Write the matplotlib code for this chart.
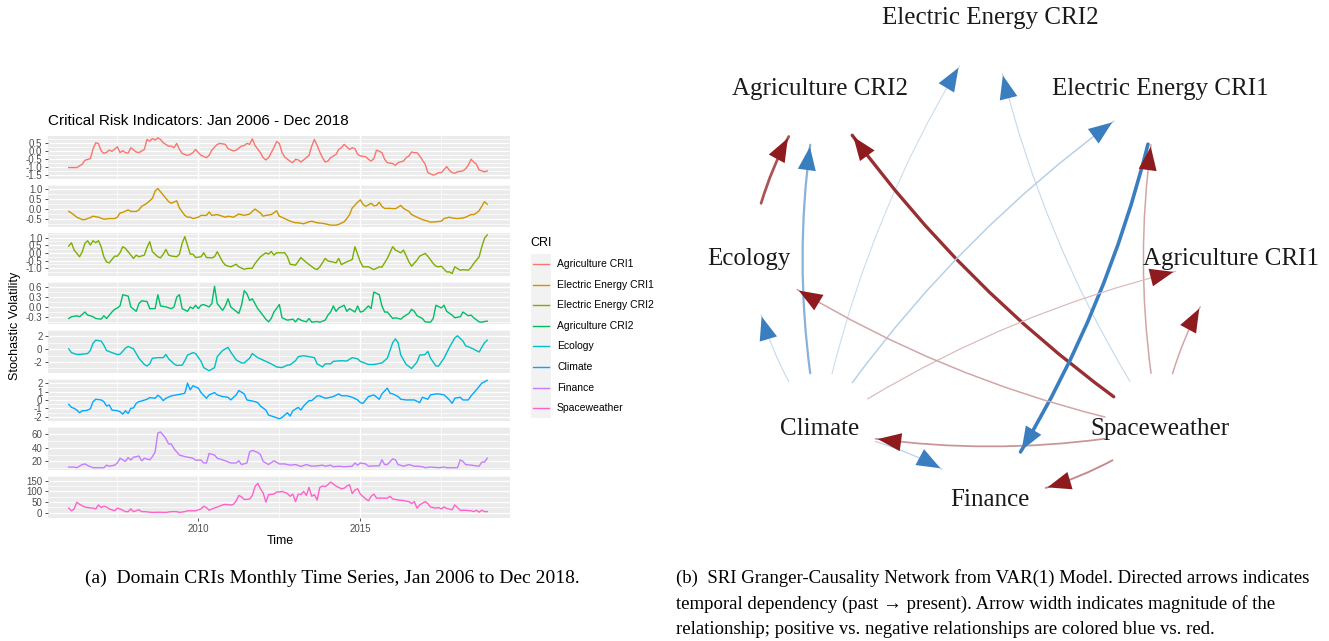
import matplotlib.pyplot as plt
import matplotlib as mpl
import numpy as np
from matplotlib.patches import FancyArrowPatch, Rectangle
from matplotlib.lines import Line2D
from matplotlib.colors import to_rgb

plt.rcParams.update({'font.family': ['Liberation Sans', 'DejaVu Sans']})
plt.rcParams.update({'axes.unicode_minus': False})
plt.close('all')

#%% data (month 0 = Jan 2006, month 155 = Dec 2018)
cri_names = ['Agriculture CRI1', 'Electric Energy CRI1', 'Electric Energy CRI2',
             'Agriculture CRI2', 'Ecology', 'Climate', 'Finance', 'Spaceweather']
cri_colors = ['#F8766D', '#CD9600', '#7CAE00', '#00BE67',
              '#00BFC4', '#00A9FF', '#C77CFF', '#FF61CC']

agri1_m = [0, 3, 5, 6, 8, 9, 10, 11, 12, 13, 14, 15, 16, 17, 18, 19, 20, 21, 22, 23, 25, 26, 28, 29, 30, 31,
           32, 33, 34, 35, 37, 38, 39, 40, 41, 42, 44, 45, 46, 47, 48, 49, 51, 52, 53, 55, 56, 58, 59, 61, 62,
           64, 65, 66, 67, 68, 69, 71, 72, 73, 74, 76, 77, 78, 79, 80, 82, 83, 84, 85, 86, 87, 89, 90, 91, 92,
           93, 94, 95, 96, 97, 99, 100, 101, 102, 104, 105, 106, 107, 108, 110, 111, 112, 113, 114, 116, 117,
           118, 120, 121, 122, 124, 125, 126, 127, 128, 129, 130, 132, 133, 135, 136, 137, 138, 140, 141, 142,
           143, 144, 146, 147, 148, 149, 150, 151, 152, 154, 155]
agri1_v = [-1.06, -1.06, -0.85, -0.6, -0.5, 0.1, 0.5, 0.45, 0.0, -0.17, -0.1, 0.04, -0.04, 0.1, 0.25, -0.12,
           0.0, -0.12, -0.15, 0.19, -0.08, -0.12, 0.08, 0.71, 0.6, 0.77, 0.67, 0.81, 0.71, 0.5, 0.29, 0.29,
           0.19, 0.46, 0.08, -0.17, -0.29, -0.23, -0.12, 0.08, -0.12, -0.29, -0.44, -0.29, 0.04, 0.4, 0.46,
           0.4, 0.13, -0.02, 0.04, 0.29, 0.33, 0.46, 0.4, 0.75, 0.33, -0.12, -0.44, -0.58, -0.44, 0.19, 0.58,
           0.46, -0.12, -0.4, -0.67, -0.75, -0.54, -0.58, -0.71, -0.58, -0.29, 0.29, 0.71, 0.33, -0.08, -0.44,
           -0.71, -0.65, -0.44, -0.23, 0.08, 0.19, 0.4, 0.08, 0.19, 0.13, -0.23, -0.33, -0.38, -0.54, -0.65,
           -0.5, 0.04, -0.12, -0.54, -0.75, -0.81, -0.92, -0.75, -0.65, -0.44, -0.33, -0.08, -0.12, -0.12,
           -0.33, -0.85, -1.38, -1.54, -1.48, -1.38, -1.38, -1.0, -1.23, -1.38, -1.42, -1.33, -1.27, -1.13,
           -0.92, -0.54, -0.71, -0.85, -1.21, -1.33, -1.27]

elec1_m = [0, 1, 3, 5, 6, 8, 9, 11, 13, 15, 17, 18, 19, 20, 22, 23, 25, 26, 27, 29, 31, 32, 33, 35, 37, 38,
           40, 41, 43, 44, 45, 46, 48, 49, 51, 52, 53, 55, 56, 58, 59, 61, 63, 65, 67, 68, 69, 71, 72, 73, 75,
           77, 78, 80, 82, 84, 85, 87, 89, 90, 92, 94, 95, 97, 99, 100, 102, 103, 104, 105, 107, 108, 109, 110,
           112, 113, 114, 115, 116, 117, 119, 121, 123, 124, 126, 127, 129, 131, 133, 134, 136, 138, 139, 141,
           142, 144, 146, 147, 149, 150, 151, 152, 154, 155]
elec1_v = [-0.1, -0.18, -0.39, -0.51, -0.51, -0.41, -0.34, -0.39, -0.49, -0.46, -0.46, -0.39, -0.18, -0.15,
           -0.02, -0.1, -0.1, -0.02, 0.15, 0.31, 0.56, 0.92, 1.05, 0.72, 0.39, 0.31, 0.43, 0.07, -0.3, -0.39,
           -0.39, -0.46, -0.39, -0.3, -0.3, -0.13, -0.3, -0.26, -0.3, -0.39, -0.34, -0.39, -0.23, -0.3, -0.23,
           -0.1, 0.02, -0.18, -0.34, -0.3, -0.26, -0.07, -0.34, -0.46, -0.59, -0.67, -0.67, -0.72, -0.62,
           -0.59, -0.67, -0.7, -0.72, -0.79, -0.79, -0.75, -0.62, -0.46, -0.26, 0.07, 0.36, 0.48, 0.26, 0.15,
           0.31, 0.18, 0.2, 0.36, 0.15, 0.05, 0.05, 0.03, 0.2, 0.05, -0.1, -0.26, -0.39, -0.51, -0.59, -0.64,
           -0.62, -0.59, -0.46, -0.39, -0.43, -0.46, -0.43, -0.39, -0.26, -0.26, -0.18, -0.07, 0.39, 0.26]

elec2_m = [0, 1, 2, 3, 4, 5, 6, 7, 8, 9, 10, 11, 12, 13, 14, 15, 17, 18, 19, 20, 21, 23, 24, 25, 26, 28, 29,
           30, 31, 33, 34, 35, 36, 37, 38, 40, 41, 42, 43, 45, 46, 47, 49, 50, 51, 53, 54, 55, 57, 58, 60, 62,
           63, 65, 66, 68, 69, 71, 73, 74, 75, 76, 77, 80, 81, 82, 84, 86, 87, 89, 91, 92, 93, 95, 96, 98, 99,
           100, 101, 103, 105, 106, 108, 109, 111, 113, 115, 116, 118, 120, 121, 123, 124, 126, 127, 129, 130,
           132, 133, 135, 136, 137, 138, 140, 141, 142, 143, 145, 146, 148, 149, 150, 152, 153, 154, 155]
elec2_v = [0.45, 0.67, 0.19, -0.03, -0.25, 0.07, 0.63, 0.8, 0.52, 0.8, 0.67, 0.8, 0.41, -0.25, -0.58, -0.65,
           -0.21, -0.21, 0.01, 0.41, 0.3, -0.14, -0.36, -0.14, -0.25, -0.14, 0.36, 0.74, 0.08, -0.25, -0.32,
           -0.08, 0.23, -0.14, -0.2, -0.25, -0.08, 0.63, 1.07, -0.08, -0.08, -0.3, -0.25, 0.01, -0.3, -0.32,
           -0.25, 0.08, -0.58, -0.8, -0.91, -0.74, -0.91, -1.07, -1.02, -1.0, -0.69, -0.25, 0.01, -0.08, 0.1,
           -0.14, 0.01, 0.01, -0.25, -0.74, -0.8, -0.3, -0.47, -0.76, -1.02, -1.09, -0.91, -0.36, -0.52, -0.6,
           -0.65, -0.36, -0.76, -0.58, -0.43, 0.41, -0.58, -0.91, -0.91, -1.09, -0.91, -0.93, -0.36, 0.41, 0.19,
           0.01, 0.19, -0.58, -0.87, -0.47, -0.21, -0.03, -0.21, -0.69, -0.87, -0.91, -0.87, -1.24, -1.24,
           -1.35, -0.91, -1.13, -1.09, -1.13, -0.96, -0.69, -0.25, 0.41, 0.96, 1.18]

agri2_m = [0, 1, 3, 4, 6, 7, 8, 9, 10, 12, 13, 14, 16, 17, 18, 19, 20, 22, 23, 25, 26, 27, 29, 30, 32, 33, 34,
           36, 38, 39, 40, 41, 42, 44, 45, 46, 47, 48, 49, 50, 52, 53, 54, 55, 57, 58, 59, 60, 62, 63, 64, 65,
           66, 67, 68, 70, 71, 73, 74, 75, 76, 78, 79, 81, 83, 84, 85, 86, 88, 89, 90, 92, 93, 95, 96, 97, 98,
           99, 100, 102, 103, 104, 106, 107, 108, 109, 111, 112, 113, 115, 116, 117, 118, 120, 121, 123, 124,
           126, 127, 128, 129, 131, 132, 134, 135, 136, 138, 139, 140, 142, 143, 145, 146, 148, 149, 150, 152,
           153, 154, 155]
agri2_v = [-0.34, -0.29, -0.26, -0.29, -0.15, -0.24, -0.26, -0.29, -0.34, -0.36, -0.26, -0.34, -0.15, -0.07,
           -0.03, 0.03, 0.36, 0.32, 0.0, -0.13, 0.1, 0.18, 0.16, -0.05, -0.05, 0.36, 0.03, 0.0, -0.05, 0.0,
           0.29, 0.36, -0.05, -0.13, 0.0, -0.05, 0.05, -0.05, 0.05, 0.07, 0.0, 0.1, 0.61, 0.1, -0.1, 0.03, 0.24,
           0.0, -0.13, -0.19, 0.05, 0.48, 0.39, 0.19, 0.24, -0.05, -0.15, -0.36, -0.44, -0.34, -0.15, 0.07,
           -0.32, -0.39, -0.36, -0.44, -0.34, -0.39, -0.44, -0.34, -0.45, -0.43, -0.45, -0.39, -0.24, -0.15,
           0.03, -0.13, -0.03, 0.05, -0.13, -0.05, -0.15, 0.03, -0.15, -0.13, 0.03, -0.05, 0.44, 0.36, 0.03,
           -0.15, -0.15, -0.34, -0.32, -0.36, -0.29, -0.19, -0.07, -0.13, -0.26, -0.34, -0.44, -0.45, -0.34,
           0.05, -0.03, 0.05, -0.13, -0.24, -0.32, -0.29, -0.15, -0.26, -0.24, -0.32, -0.44, -0.45, -0.43, -0.42]

eco_m = [0, 1, 3, 5, 7, 8, 9, 10, 12, 13, 14, 16, 18, 19, 21, 22, 24, 26, 28, 29, 30, 31, 33, 35, 36, 37, 39,
         40, 42, 43, 44, 46, 47, 49, 50, 52, 54, 55, 57, 59, 60, 62, 64, 65, 67, 68, 70, 71, 73, 75, 77, 79,
         81, 82, 84, 85, 87, 89, 91, 92, 94, 95, 97, 98, 101, 103, 105, 107, 108, 111, 113, 116, 118, 119, 120,
         121, 122, 123, 125, 127, 129, 130, 132, 133, 134, 136, 137, 139, 141, 143, 144, 146, 147, 149, 150,
         152, 153, 154, 155]
eco_v = [0.05, -0.54, -0.83, -0.78, -0.68, -0.2, 0.93, 1.41, 1.27, 0.63, -0.2, -0.54, -0.83, -0.8, 0.15, 0.44,
         0.05, -1.41, -2.39, -2.63, -2.29, -1.41, -1.32, -1.32, -0.83, -1.51, -2.29, -2.54, -2.49, -1.8, -0.93,
         -0.54, -0.68, -1.9, -2.88, -3.37, -2.88, -1.17, -0.2, 0.29, -0.44, -1.66, -2.15, -2.15, -1.41, -0.68,
         -1.32, -1.51, -1.9, -2.29, -2.78, -2.88, -2.49, -2.45, -1.8, -1.17, -1.02, -1.17, -1.32, -2.29, -2.78,
         -2.29, -2.29, -1.9, -1.8, -1.85, -1.32, -1.51, -1.9, -2.39, -2.39, -2.15, -1.41, -0.2, 1.02, 1.61, 1.02,
         -0.93, -2.39, -3.02, -2.0, -0.93, -0.83, -0.34, -1.41, -2.63, -2.63, -1.41, 0.29, 1.76, 2.1, 1.27,
         0.54, 0.2, 0.0, -0.44, 0.3, 1.0, 1.41]

clim_m = [0, 1, 2, 3, 4, 5, 6, 7, 8, 9, 10, 12, 13, 14, 15, 16, 18, 19, 20, 21, 22, 23, 24, 25, 26, 27, 29, 30,
          32, 33, 34, 35, 36, 38, 40, 42, 43, 44, 45, 46, 48, 49, 51, 52, 54, 55, 57, 59, 60, 62, 63, 65, 66,
          69, 70, 71, 73, 74, 76, 78, 79, 81, 82, 83, 85, 86, 87, 89, 90, 92, 93, 95, 96, 98, 100, 101, 103,
          105, 107, 108, 109, 111, 113, 115, 116, 118, 119, 120, 122, 123, 125, 127, 128, 130, 131, 133, 134,
          136, 137, 139, 140, 141, 142, 143, 145, 146, 148, 149, 151, 153, 155]
clim_v = [-0.52, -0.88, -1.0, -1.2, -1.52, -1.28, -1.28, -1.2, -1.05, -0.2, 0.08, 0.0, -0.2, -0.72, -0.6, -1.2,
          -1.28, -1.4, -1.68, -1.28, -1.6, -1.0, -0.95, -0.4, -0.2, -0.12, 0.08, 0.28, 0.2, 0.56, 0.32, -0.08,
          0.2, 0.48, 0.6, 0.72, 0.8, 2.0, 1.2, 1.68, 1.4, 0.88, 0.2, 0.6, 0.88, 0.6, 0.4, 0.32, 0.0, 0.6, 1.12,
          0.72, 0.0, -0.2, -0.32, -0.72, -1.2, -1.8, -2.0, -2.24, -2.08, -1.52, -1.92, -1.28, -0.88, -1.2, -0.72,
          -0.08, -0.08, 0.48, 0.48, 0.2, 0.25, 0.4, 0.72, 0.5, 0.5, 0.32, 0.0, -0.32, -0.4, 0.4, 0.6, 0.08,
          0.72, 1.4, 0.8, 0.72, 0.4, 0.08, 0.0, 0.0, 0.0, -0.32, 0.32, 0.08, 0.6, 0.72, 0.72, 0.6, 0.32, 0.0,
          -0.4, 0.2, 0.32, 0.0, 0.0, 0.48, 1.2, 2.0, 2.32]

fin_m = [0, 2, 3, 5, 6, 7, 9, 12, 13, 14, 15, 17, 18, 19, 20, 21, 22, 23, 24, 25, 26, 27, 28, 30, 31, 32, 33,
         34, 36, 37, 38, 39, 41, 43, 45, 46, 47, 49, 50, 51, 52, 54, 55, 58, 60, 62, 63, 64, 66, 67, 68, 70,
         71, 72, 74, 76, 78, 80, 82, 84, 86, 88, 90, 92, 94, 95, 97, 98, 100, 102, 105, 106, 107, 108, 110,
         111, 113, 115, 116, 117, 118, 120, 121, 122, 124, 126, 128, 129, 131, 132, 134, 137, 139, 140, 142,
         143, 144, 145, 146, 147, 149, 152, 153, 154, 155]
fin_v = [11.7, 11.7, 10.8, 15.4, 16.3, 14.0, 10.8, 10.8, 10.8, 14.5, 13.0, 14.5, 17.7, 24.6, 22.3, 20.0, 25.5,
         22.0, 26.0, 26.9, 27.8, 20.9, 24.6, 22.3, 26.9, 33.8, 61.4, 62.8, 53.1, 45.3, 45.3, 38.4, 29.2, 26.9,
         25.5, 24.6, 21.8, 22.0, 17.7, 17.7, 31.5, 29.2, 24.6, 20.9, 17.7, 17.7, 20.9, 15.4, 17.7, 33.8, 36.1,
         32.9, 30.1, 20.0, 15.4, 20.9, 16.3, 16.3, 14.5, 15.4, 12.6, 15.4, 13.0, 13.5, 14.5, 13.0, 14.5, 12.2,
         13.0, 12.2, 13.0, 17.7, 14.5, 17.7, 16.3, 13.0, 13.5, 13.5, 22.3, 15.4, 15.4, 23.7, 22.3, 15.4, 13.0,
         15.4, 13.0, 13.0, 12.2, 10.8, 11.7, 10.8, 11.7, 10.8, 10.8, 10.8, 10.8, 22.3, 20.0, 15.4, 14.5, 13.0,
         19.0, 19.0, 24.6]

space_m = [0, 1, 2, 3, 4, 6, 7, 9, 10, 11, 12, 13, 14, 15, 17, 18, 19, 21, 22, 23, 24, 26, 27, 28, 31, 33,
           36, 38, 40, 41, 43, 44, 46, 47, 49, 50, 51, 52, 53, 55, 57, 58, 60, 61, 62, 63, 64, 65, 67, 68, 69,
           70, 71, 72, 73, 74, 76, 77, 78, 79, 80, 81, 82, 83, 84, 85, 86, 87, 88, 89, 90, 91, 92, 93, 94, 95,
           96, 97, 99, 100, 101, 102, 103, 104, 105, 106, 107, 108, 110, 111, 112, 113, 114, 116, 118, 119, 120,
           122, 124, 126, 127, 128, 129, 130, 132, 133, 134, 136, 137, 138, 139, 140, 142, 143, 145, 147, 149,
           150, 151, 152, 153, 154, 155]
space_v = [21.5, 8.9, 17.7, 49.4, 39.2, 26.6, 24.0, 21.5, 17.7, 36.7, 24.0, 30.4, 26.6, 17.7, 8.9, 21.5, 17.7,
           5.0, 5.0, 17.7, 5.0, 13.9, 5.0, 5.0, 1.3, 2.0, 1.3, 5.0, 5.0, 1.3, 5.0, 8.9, 8.9, 8.9, 17.7, 30.4,
           24.0, 11.4, 17.7, 26.6, 36.7, 39.2, 36.0, 39.2, 55.7, 81.0, 74.7, 62.0, 64.0, 81.0, 122.8, 138.0,
           112.7, 93.7, 49.4, 84.8, 87.4, 97.5, 97.5, 100.0, 95.0, 89.9, 77.2, 87.4, 51.9, 87.4, 85.0, 100.0,
           81.0, 119.0, 77.2, 84.8, 59.5, 119.0, 125.3, 122.8, 131.7, 144.4, 125.3, 119.0, 112.7, 115.2, 125.3,
           131.7, 89.9, 106.4, 112.7, 87.4, 64.6, 55.7, 77.2, 87.4, 68.4, 68.4, 68.4, 77.2, 64.6, 59.5, 57.0,
           51.9, 43.0, 51.9, 21.5, 36.7, 51.9, 43.0, 26.6, 21.5, 24.0, 17.7, 26.6, 20.0, 13.9, 36.7, 11.4, 11.4,
           8.9, 5.0, 11.4, 2.5, 11.4, 5.0, 5.0]

series_m = [agri1_m, elec1_m, elec2_m, agri2_m, eco_m, clim_m, fin_m, space_m]
series_v = [agri1_v, elec1_v, elec2_v, agri2_v, eco_v, clim_v, fin_v, space_v]

# y tick breaks of each facet
y_breaks = [[-1.5, -1.0, -0.5, 0.0, 0.5], [-0.5, 0.0, 0.5, 1.0], [-1.0, -0.5, 0.0, 0.5, 1.0],
            [-0.3, 0.0, 0.3, 0.6], [-2, 0, 2], [-2, -1, 0, 1, 2], [20, 40, 60], [0, 50, 100, 150]]
y_fmt = ['%.1f', '%.1f', '%.1f', '%.1f', '%d', '%d', '%d', '%d']
x_breaks = [2010, 2015]

# Granger network: nodes clockwise from top, edges with signed weight
net_nodes = ['Electric Energy CRI2', 'Electric Energy CRI1', 'Agriculture CRI1', 'Spaceweather',
             'Finance', 'Climate', 'Ecology', 'Agriculture CRI2']
edge_src = ['Climate', 'Spaceweather', 'Ecology', 'Climate', 'Spaceweather', 'Climate', 'Spaceweather',
            'Electric Energy CRI1', 'Spaceweather', 'Climate', 'Spaceweather', 'Climate', 'Spaceweather',
            'Climate', 'Spaceweather']
edge_dst = ['Electric Energy CRI2', 'Electric Energy CRI2', 'Agriculture CRI2', 'Agriculture CRI2',
            'Agriculture CRI2', 'Electric Energy CRI1', 'Electric Energy CRI1', 'Finance', 'Agriculture CRI1',
            'Agriculture CRI1', 'Ecology', 'Ecology', 'Climate', 'Finance', 'Finance']
edge_w = [0.08, 0.1, -0.62, 0.45, -0.8, 0.2, -0.22, 0.9, -0.22, -0.12, -0.22, 0.1, -0.3, 0.15, -0.35]

caption_a = '(a)  Domain CRIs Monthly Time Series, Jan 2006 to Dec 2018.'
caption_b = ['(b)  SRI Granger-Causality Network from VAR(1) Model. Directed arrows indicates',
             'temporal dependency (past \u2192 present). Arrow width indicates magnitude of the',
             'relationship; positive vs. negative relationships are colored blue vs. red.']

#%% figure
W, H = 1329, 641
fig = plt.figure(figsize=(W/100, H/100), dpi=100)

# overlay axes in pixel coordinates for network, legend, captions
ov = fig.add_axes([0, 0, 1, 1])
ov.set_xlim(0, W)
ov.set_ylim(H, 0)
ov.axis('off')

px_left, px_w = 48, 462
top0, step, ph = 136, 48.5, 42.5
for i in range(8):
    top = top0 + i*step
    ax = fig.add_axes([px_left/W, 1 - (top + ph)/H, px_w/W, ph/H])
    ax.set_facecolor('#EBEBEB')
    for s in ax.spines.values():
        s.set_visible(False)
    t = 2006 + np.array(series_m[i])/12.0
    v = np.array(series_v[i])
    ax.plot(t, v, color=cri_colors[i], linewidth=1.0, zorder=3)
    ax.set_xlim(2005.36, 2019.62)
    lo, hi = v.min(), v.max()
    pad = 0.05*(hi - lo)
    ax.set_ylim(lo - pad, hi + pad)
    br = y_breaks[i]
    ax.set_yticks(br)
    ax.set_yticklabels([y_fmt[i] % b for b in br])
    d = br[1] - br[0]
    minor = [br[0] - d/2] + [b + d/2 for b in br]
    ax.set_yticks(minor, minor=True)
    ax.set_xticks(x_breaks)
    ax.set_xticks([2007.5, 2012.5, 2017.5], minor=True)
    ax.grid(which='major', color='white', linewidth=1.0, zorder=0)
    ax.grid(which='minor', color='white', linewidth=0.5, zorder=0)
    ax.set_axisbelow(True)
    ax.tick_params(axis='y', which='major', labelsize=7, colors='#333333', labelcolor='#4D4D4D',
                   length=2.5, width=0.6, pad=1.5)
    ax.tick_params(which='minor', length=0)
    if i < 7:
        ax.tick_params(axis='x', which='major', length=0, labelbottom=False)
    else:
        ax.tick_params(axis='x', which='major', labelsize=7, colors='#333333', labelcolor='#4D4D4D',
                       length=2.5, width=0.6, pad=1.5)

fig.text(48/W, 1 - 121/H, 'Critical Risk Indicators: Jan 2006 - Dec 2018', fontsize=11,
         ha='left', va='center', color='black')
fig.text(280/W, 1 - 541/H, 'Time', fontsize=9, ha='center', va='center')
fig.text(15/W, 1 - 326/H, 'Stochastic Volatility', fontsize=9, ha='center', va='center', rotation=90)

# legend
ov.text(530, 243, 'CRI', fontsize=9, ha='left', va='center')
ov.add_patch(Rectangle((531, 254), 20, 164, facecolor='#F2F2F2', edgecolor='none'))
for i, name in enumerate(cri_names):
    y = 264 + 20.6*i
    ov.add_line(Line2D([533, 549], [y, y], color=cri_colors[i], linewidth=1.0))
    ov.text(557, y, name, fontsize=7.5, ha='left', va='center', color='black')

#%% network
cx, cy, r = 990, 259, 241
pos = {}
for k, n in enumerate(net_nodes):
    a = np.deg2rad(90 - 45*k)
    pos[n] = (cx + r*np.cos(a), cy - r*np.sin(a))
serif = ['Liberation Serif', 'DejaVu Serif']
for n in net_nodes:
    ov.text(pos[n][0], pos[n][1], n, family=serif, fontsize=18, ha='center', va='center',
            color='#1A1A1A', zorder=5)

blue = np.array(to_rgb('#3A7EBF'))
red = np.array(to_rgb('#8E1B1E'))
wmax = max(abs(w) for w in edge_w)
shrink = 41
for s, d, w in zip(edge_src, edge_dst, edge_w):
    frac = abs(w)/wmax
    base = blue if w > 0 else red
    lcol = base*(0.2 + 0.8*frac) + np.ones(3)*(0.8 - 0.8*frac)
    lcol = np.clip(lcol, 0, 1)
    dist = np.hypot(pos[d][0] - pos[s][0], pos[d][1] - pos[s][1])
    rad = -0.1 if dist > 250 else -0.13
    cs = 'arc3,rad=%.2f' % rad
    line = FancyArrowPatch(pos[s], pos[d], arrowstyle='-', connectionstyle=cs,
                           shrinkA=shrink, shrinkB=shrink, color=lcol,
                           linewidth=0.6 + 2.0*frac, zorder=2)
    ov.add_patch(line)
    head = FancyArrowPatch(pos[s], pos[d],
                           arrowstyle=mpl.patches.ArrowStyle('-|>', head_length=1.3, head_width=0.5),
                           connectionstyle=cs, shrinkA=shrink, shrinkB=shrink,
                           mutation_scale=13, facecolor=base, edgecolor='none', zorder=3)
    ov.add_patch(head)

#%% captions
ov.text(332, 578, caption_a, family=serif, fontsize=14, ha='center', va='center')
for j, line_txt in enumerate(caption_b):
    ov.text(676, 578 + 26*j, line_txt, family=serif, fontsize=13.5, ha='left', va='center')

fig.savefig('out.png', dpi=100)
